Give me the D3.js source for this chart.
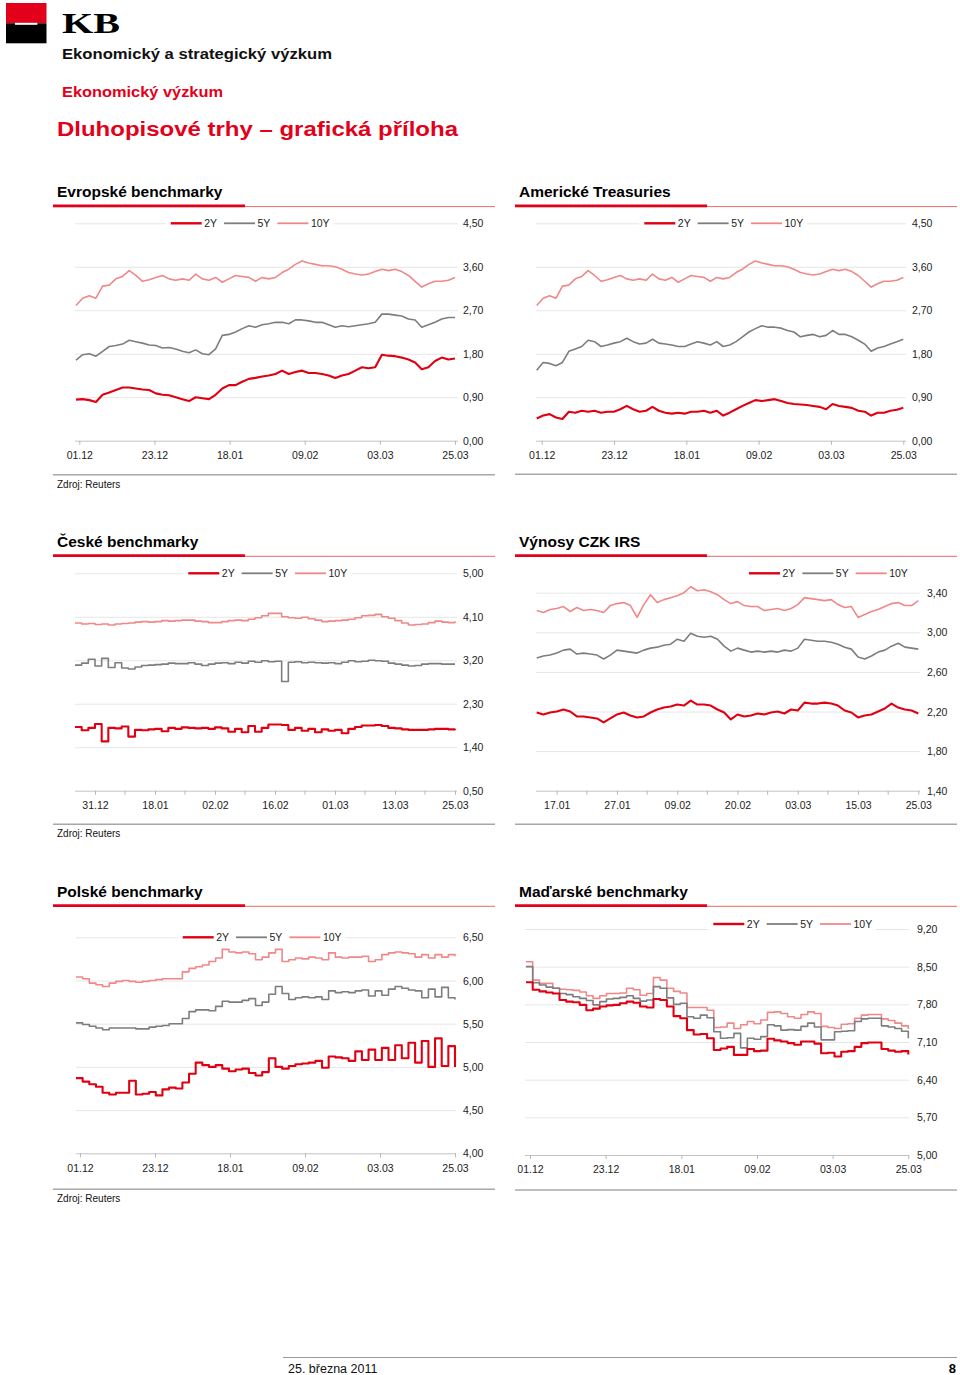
<!DOCTYPE html>
<html><head><meta charset="utf-8">
<script src="https://cdn.jsdelivr.net/npm/d3@7"></script>
<style>
body{margin:0;background:#fff}
svg{display:block}
text{font-family:"Liberation Sans",Arial,Helvetica,sans-serif}
</style>
</head><body>
<svg id="page" width="960" height="1375"></svg>
<script>
// ---------------- DATA ----------------
const seriesNames = ["2Y", "5Y", "10Y"];

// Evropské benchmarky (01.12 – 25.03)
const euTicks = ["01.12", "23.12", "18.01", "09.02", "03.03", "25.03"];
const euYTicks = [0, 0.9, 1.8, 2.7, 3.6, 4.5];
const eu2Y = [0.85,0.86,0.84,0.80,0.95,1.00,1.05,1.10,1.10,1.08,1.06,1.05,0.98,0.95,0.94,0.90,0.86,0.82,0.90,0.88,0.86,0.95,1.08,1.15,1.15,1.22,1.28,1.30,1.33,1.35,1.38,1.45,1.38,1.42,1.45,1.40,1.40,1.38,1.35,1.30,1.35,1.38,1.45,1.52,1.50,1.52,1.78,1.76,1.75,1.72,1.68,1.62,1.48,1.52,1.65,1.72,1.68,1.70];
const eu5Y = [1.67,1.78,1.80,1.75,1.85,1.95,1.97,2.00,2.08,2.05,2.02,1.98,1.97,1.92,1.93,1.90,1.85,1.82,1.88,1.80,1.78,1.90,2.18,2.20,2.25,2.32,2.38,2.35,2.40,2.42,2.45,2.45,2.42,2.50,2.50,2.48,2.45,2.45,2.40,2.35,2.38,2.36,2.38,2.40,2.42,2.45,2.62,2.62,2.60,2.58,2.52,2.50,2.35,2.40,2.45,2.52,2.55,2.55];
const eu10Y = [2.80,2.95,3.00,2.95,3.20,3.22,3.35,3.40,3.52,3.42,3.30,3.33,3.38,3.42,3.35,3.32,3.35,3.32,3.45,3.35,3.32,3.38,3.28,3.35,3.42,3.40,3.38,3.30,3.38,3.35,3.38,3.48,3.55,3.65,3.72,3.68,3.65,3.62,3.62,3.60,3.55,3.48,3.45,3.43,3.45,3.50,3.55,3.52,3.55,3.50,3.42,3.30,3.18,3.25,3.30,3.30,3.32,3.38];

// Americké Treasuries (01.12 – 25.03)
const usTicks = ["01.12", "23.12", "18.01", "09.02", "03.03", "25.03"];
const usYTicks = [0, 0.9, 1.8, 2.7, 3.6, 4.5];
const us2Y = [0.46,0.52,0.55,0.48,0.45,0.60,0.58,0.62,0.60,0.62,0.58,0.60,0.60,0.65,0.72,0.65,0.60,0.62,0.70,0.62,0.58,0.56,0.58,0.56,0.60,0.60,0.62,0.58,0.62,0.52,0.58,0.65,0.72,0.78,0.84,0.82,0.84,0.86,0.82,0.78,0.76,0.75,0.74,0.72,0.70,0.65,0.76,0.72,0.70,0.68,0.62,0.60,0.52,0.58,0.58,0.62,0.64,0.68];
const us5Y = [1.46,1.62,1.60,1.55,1.62,1.85,1.90,1.95,2.08,2.05,1.95,1.98,2.02,2.05,2.12,2.05,2.00,2.02,2.10,2.02,2.00,1.98,1.95,1.95,2.00,2.05,2.02,1.98,2.05,1.95,1.98,2.05,2.15,2.25,2.32,2.38,2.35,2.35,2.33,2.28,2.25,2.15,2.18,2.20,2.15,2.18,2.28,2.20,2.20,2.15,2.08,2.00,1.85,1.92,1.95,2.00,2.05,2.10];
const us10Y = [2.80,2.95,3.00,2.95,3.20,3.22,3.35,3.40,3.52,3.42,3.30,3.33,3.38,3.42,3.35,3.32,3.35,3.32,3.45,3.35,3.32,3.38,3.28,3.35,3.42,3.40,3.38,3.30,3.38,3.35,3.38,3.48,3.55,3.65,3.72,3.68,3.65,3.62,3.62,3.60,3.55,3.48,3.45,3.43,3.45,3.50,3.55,3.52,3.55,3.50,3.42,3.30,3.18,3.25,3.30,3.30,3.32,3.38];

// České benchmarky
const czTicks = ["31.12", "18.01", "02.02", "16.02", "01.03", "13.03", "25.03"];
const czYTicks = [0.5, 1.4, 2.3, 3.2, 4.1, 5.0];
const cz2Y = [1.82,1.75,1.80,1.88,1.52,1.80,1.79,1.83,1.62,1.76,1.75,1.77,1.78,1.73,1.80,1.78,1.81,1.80,1.79,1.80,1.78,1.81,1.79,1.72,1.78,1.71,1.84,1.72,1.80,1.87,1.87,1.86,1.76,1.80,1.74,1.78,1.71,1.77,1.74,1.76,1.69,1.78,1.82,1.85,1.85,1.86,1.84,1.80,1.79,1.77,1.76,1.76,1.76,1.77,1.78,1.78,1.77,1.78];
const cz5Y = [3.10,3.14,3.22,3.08,3.24,3.05,3.15,3.04,3.02,3.06,3.09,3.10,3.11,3.12,3.14,3.13,3.13,3.15,3.12,3.09,3.12,3.14,3.15,3.13,3.16,3.14,3.18,3.16,3.19,3.17,3.18,2.76,3.16,3.17,3.15,3.16,3.15,3.14,3.15,3.13,3.16,3.19,3.17,3.18,3.20,3.19,3.18,3.14,3.12,3.10,3.08,3.09,3.12,3.13,3.13,3.12,3.12,3.12];
const cz10Y = [3.97,3.95,3.96,3.94,3.95,3.93,3.95,3.96,3.97,3.99,4.00,3.99,4.00,4.02,4.01,4.02,4.03,4.03,4.01,4.00,3.98,3.98,4.00,4.02,4.03,4.02,4.05,4.08,4.12,4.17,4.17,4.10,4.08,4.07,4.09,4.06,4.03,4.00,4.01,4.02,4.03,4.05,4.08,4.12,4.13,4.15,4.10,4.07,4.02,3.97,3.93,3.94,3.95,3.98,4.01,3.99,3.98,4.01];

// Výnosy CZK IRS
const irsTicks = ["17.01", "27.01", "09.02", "20.02", "03.03", "15.03", "25.03"];
const irsYTicks = [1.4, 1.8, 2.2, 2.6, 3.0, 3.4];
const irs2Y = [2.19,2.17,2.19,2.20,2.22,2.20,2.15,2.15,2.14,2.13,2.09,2.13,2.17,2.19,2.16,2.14,2.15,2.19,2.22,2.24,2.25,2.27,2.26,2.31,2.27,2.27,2.26,2.22,2.19,2.12,2.17,2.15,2.16,2.18,2.17,2.19,2.20,2.18,2.22,2.21,2.29,2.28,2.28,2.29,2.28,2.26,2.21,2.19,2.14,2.16,2.17,2.20,2.23,2.28,2.24,2.22,2.21,2.18];
const irs5Y = [2.74,2.76,2.77,2.79,2.82,2.83,2.78,2.79,2.78,2.77,2.73,2.77,2.82,2.81,2.80,2.79,2.82,2.84,2.85,2.87,2.88,2.93,2.91,2.99,2.96,2.95,2.96,2.93,2.86,2.81,2.84,2.82,2.80,2.81,2.80,2.81,2.80,2.82,2.81,2.84,2.93,2.92,2.91,2.91,2.90,2.88,2.85,2.83,2.75,2.73,2.76,2.80,2.82,2.86,2.89,2.85,2.84,2.83];
const irs10Y = [3.22,3.20,3.23,3.24,3.26,3.21,3.25,3.22,3.23,3.22,3.20,3.27,3.29,3.30,3.27,3.15,3.28,3.38,3.30,3.33,3.35,3.37,3.40,3.46,3.42,3.43,3.41,3.38,3.33,3.29,3.31,3.27,3.26,3.26,3.22,3.23,3.24,3.22,3.24,3.28,3.35,3.34,3.33,3.32,3.33,3.28,3.25,3.26,3.15,3.18,3.21,3.23,3.26,3.29,3.30,3.27,3.27,3.32];

// Polské benchmarky
const plTicks = ["01.12", "23.12", "18.01", "09.02", "03.03", "25.03"];
const plYTicks = [4.0, 4.5, 5.0, 5.5, 6.0, 6.5];
const pl2Y = [4.87,4.83,4.80,4.77,4.70,4.68,4.70,4.70,4.84,4.68,4.69,4.71,4.67,4.74,4.76,4.75,4.82,4.92,5.05,5.02,5.00,5.02,4.98,4.95,4.97,4.98,4.93,4.90,4.94,5.10,5.00,4.98,5.01,5.03,5.04,5.05,5.07,4.99,5.12,5.11,5.10,5.07,5.18,5.08,5.20,5.08,5.22,5.08,5.25,5.10,5.28,5.05,5.30,5.00,5.33,5.01,5.24,5.00];
const pl5Y = [5.51,5.49,5.47,5.45,5.43,5.45,5.45,5.45,5.45,5.44,5.44,5.46,5.47,5.48,5.50,5.50,5.56,5.64,5.66,5.66,5.65,5.70,5.76,5.75,5.75,5.77,5.79,5.71,5.75,5.84,5.93,5.85,5.78,5.80,5.81,5.80,5.81,5.78,5.88,5.86,5.87,5.86,5.88,5.89,5.82,5.88,5.83,5.90,5.93,5.91,5.89,5.88,5.80,5.90,5.81,5.92,5.80,5.78];
const pl10Y = [6.04,6.02,5.97,5.95,5.93,5.97,5.99,6.00,5.99,5.98,5.99,6.00,6.01,6.02,6.02,6.02,6.10,6.14,6.16,6.18,6.22,6.26,6.36,6.33,6.32,6.33,6.31,6.24,6.27,6.32,6.36,6.22,6.24,6.26,6.25,6.27,6.26,6.24,6.32,6.27,6.26,6.27,6.27,6.28,6.22,6.24,6.30,6.32,6.33,6.32,6.31,6.27,6.30,6.26,6.30,6.27,6.30,6.28];

// Maďarské benchmarky
const huTicks = ["01.12", "23.12", "18.01", "09.02", "03.03", "25.03"];
const huYTicks = [5.0, 5.7, 6.4, 7.1, 7.8, 8.5, 9.2];
const hu2Y = [8.21,8.07,8.04,8.02,8.00,7.88,7.85,7.84,7.79,7.69,7.72,7.76,7.78,7.79,7.82,7.85,7.83,7.76,7.74,7.90,7.88,7.76,7.58,7.54,7.32,7.24,7.25,7.17,6.95,6.98,7.01,6.86,6.86,6.97,6.93,6.94,7.16,7.13,7.11,7.08,7.05,7.11,7.11,7.07,6.89,6.90,6.83,6.92,6.93,7.01,7.08,7.09,7.09,6.97,6.94,6.92,6.93,6.87];
const hu5Y = [8.50,8.20,8.16,8.12,8.10,8.00,7.98,7.94,7.91,7.87,7.79,7.85,7.90,7.91,7.93,7.96,7.91,7.86,7.88,8.13,8.10,7.92,7.80,7.82,7.57,7.54,7.60,7.55,7.29,7.17,7.18,7.26,6.99,7.17,7.15,7.20,7.42,7.40,7.32,7.33,7.32,7.39,7.45,7.38,7.14,7.14,7.29,7.30,7.31,7.48,7.53,7.54,7.54,7.40,7.38,7.35,7.30,7.17];
const hu10Y = [8.59,8.25,8.19,8.19,8.10,8.08,8.07,8.06,8.03,7.96,7.91,7.96,8.00,8.00,8.01,8.10,8.07,7.97,8.00,8.30,8.25,8.10,8.04,8.01,7.74,7.74,7.74,7.69,7.37,7.38,7.45,7.35,7.42,7.48,7.44,7.51,7.65,7.66,7.63,7.57,7.54,7.61,7.66,7.63,7.39,7.37,7.35,7.43,7.44,7.54,7.60,7.61,7.61,7.53,7.50,7.45,7.40,7.34];

// ---------------- STYLE / LAYOUT ----------------
const RED = "#e2001a";
const colors = {"2Y": "#e00012", "5Y": "#7d7d7d", "10Y": "#f08888"};
const widths = {"2Y": 2.1, "5Y": 1.6, "10Y": 1.6};
const fmt = v => d3.format(".2f")(v).replace(".", ",");

const svg = d3.select("#page");

// Header
svg.append("rect").attr("x", 6).attr("y", 3).attr("width", 40.5).attr("height", 20.3).attr("fill", RED);
svg.append("rect").attr("x", 6).attr("y", 23.3).attr("width", 40.5).attr("height", 20).attr("fill", "#000");
svg.append("rect").attr("x", 15).attr("y", 22.8).attr("width", 22.3).attr("height", 2).attr("fill", "#fff");
svg.append("text").attr("x", 62).attr("y", 33.3).attr("font-size", 29).attr("font-weight", "bold")
  .style("font-family", "'Liberation Serif','DejaVu Serif',serif")
  .attr("textLength", 58).attr("lengthAdjust", "spacingAndGlyphs").text("KB");
svg.append("text").attr("x", 62).attr("y", 59.3).attr("font-size", 14.5).attr("font-weight", "bold").attr("fill", "#111")
  .attr("textLength", 270).attr("lengthAdjust", "spacingAndGlyphs").text("Ekonomický a strategický výzkum");
svg.append("text").attr("x", 62).attr("y", 97.3).attr("font-size", 14.5).attr("font-weight", "bold").attr("fill", RED)
  .attr("textLength", 161).attr("lengthAdjust", "spacingAndGlyphs").text("Ekonomický výzkum");
svg.append("text").attr("x", 57).attr("y", 136).attr("font-size", 20).attr("font-weight", "bold").attr("fill", RED)
  .attr("textLength", 401).attr("lengthAdjust", "spacingAndGlyphs").text("Dluhopisové trhy – grafická příloha");

// Footer
svg.append("line").attr("x1", 283).attr("x2", 957).attr("y1", 1357.5).attr("y2", 1357.5).attr("stroke", "#9a9a9a").attr("stroke-width", 1);
svg.append("text").attr("x", 288).attr("y", 1373).attr("font-size", 12.5).attr("fill", "#111").text("25. března 2011");
svg.append("text").attr("x", 956).attr("y", 1373).attr("text-anchor", "end").attr("font-size", 13).attr("font-weight", "bold").text("8");

const charts = [
  {title: "Evropské benchmarky", titleX: 57, px0: 53, px1: 495, titleY: 197, bottomY: 474.8, source: true,
   yDomain: [0, 4.5], yTicks: euYTicks, yTop: 223.3, yBot: 440.7, gx0: 75, gx1: 458, labelX: 463,
   dx0: 76, dx1: 455, ticks: euTicks, tx0: 79.3, tx1: 455, minor: false,
   legendX: 170.7, legendY: 223.3, data: {"2Y": eu2Y, "5Y": eu5Y, "10Y": eu10Y}, step: false},
  {title: "Americké Treasuries", titleX: 519, px0: 515, px1: 957, titleY: 197, bottomY: 474.3, source: false,
   yDomain: [0, 4.5], yTicks: usYTicks, yTop: 223.3, yBot: 440.7, gx0: 536, gx1: 906, labelX: 912,
   dx0: 536.7, dx1: 903.3, ticks: usTicks, tx0: 541.7, tx1: 903.3, minor: false,
   legendX: 644.3, legendY: 223.3, data: {"2Y": us2Y, "5Y": us5Y, "10Y": us10Y}, step: false},
  {title: "České benchmarky", titleX: 57, px0: 53, px1: 495, titleY: 546.7, bottomY: 824.3, source: true,
   yDomain: [0.5, 5.0], yTicks: czYTicks, yTop: 573.3, yBot: 790.7, gx0: 75, gx1: 457, labelX: 463,
   dx0: 75, dx1: 455, ticks: czTicks, tx0: 95, tx1: 455, minor: true,
   legendX: 188.3, legendY: 573.3, data: {"2Y": cz2Y, "5Y": cz5Y, "10Y": cz10Y}, step: true},
  {title: "Výnosy CZK IRS", titleX: 519, px0: 515, px1: 957, titleY: 546.7, bottomY: 824.3, source: false,
   yDomain: [1.4, 3.4], yTicks: irsYTicks, yTop: 592.7, yBot: 790.7, gx0: 536, gx1: 920, labelX: 927,
   dx0: 536.7, dx1: 918.3, ticks: irsTicks, tx0: 556.7, tx1: 918.3, minor: true,
   legendX: 749, legendY: 573.3, data: {"2Y": irs2Y, "5Y": irs5Y, "10Y": irs10Y}, step: false},
  {title: "Polské benchmarky", titleX: 57, px0: 53, px1: 495, titleY: 896.7, bottomY: 1189.3, source: true,
   yDomain: [4.0, 6.5], yTicks: plYTicks, yTop: 937.3, yBot: 1153.3, gx0: 76, gx1: 456, labelX: 463,
   dx0: 76, dx1: 455, ticks: plTicks, tx0: 80, tx1: 455, minor: false,
   legendX: 182.7, legendY: 937.3, data: {"2Y": pl2Y, "5Y": pl5Y, "10Y": pl10Y}, step: true},
  {title: "Maďarské benchmarky", titleX: 519, px0: 515, px1: 957, titleY: 896.7, bottomY: 1190, source: false,
   yDomain: [5.0, 9.2], yTicks: huYTicks, yTop: 929, yBot: 1155, gx0: 525, gx1: 909, labelX: 917,
   dx0: 526, dx1: 908.3, ticks: huTicks, tx0: 530, tx1: 908.3, minor: false, clipLeft: 517.5,
   legendX: 713.3, legendY: 924, data: {"2Y": hu2Y, "5Y": hu5Y, "10Y": hu10Y}, step: true}
];

const defs = svg.append("defs");

function drawChart(c, idx) {
  const g = svg.append("g");
  // title + rules
  g.append("text").attr("x", c.titleX).attr("y", c.titleY).attr("font-size", 15.5).attr("font-weight", "bold")
    .attr("fill", "#000").text(c.title);
  g.append("line").attr("x1", c.px0).attr("x2", c.px1).attr("y1", c.titleY + 9.6).attr("y2", c.titleY + 9.6)
    .attr("stroke", "#e46a6a").attr("stroke-width", 1);
  g.append("line").attr("x1", c.px0).attr("x2", c.px0 + 192).attr("y1", c.titleY + 8.9).attr("y2", c.titleY + 8.9)
    .attr("stroke", RED).attr("stroke-width", 2.8);
  g.append("line").attr("x1", c.px0).attr("x2", c.px1).attr("y1", c.bottomY).attr("y2", c.bottomY)
    .attr("stroke", "#a8a8a8").attr("stroke-width", 1.5);
  if (c.source) {
    g.append("text").attr("x", 57).attr("y", c.bottomY + 13).attr("font-size", 10).attr("fill", "#111").text("Zdroj: Reuters");
  }

  const y = d3.scaleLinear().domain(c.yDomain).range([c.yBot, c.yTop]);
  const yAxis = d3.axisRight(y).tickValues(c.yTicks).tickSize(-(c.gx1 - c.gx0))
    .tickPadding(c.labelX - c.gx1).tickFormat(fmt);
  const ya = g.append("g").attr("transform", `translate(${c.gx1},0)`).call(yAxis)
    .attr("font-family", null).attr("font-size", null);
  ya.select(".domain").remove();
  ya.selectAll(".tick line").attr("stroke", d => d === c.yDomain[0] ? "#c4c4c4" : "#e6e6e6").attr("stroke-width", 1);
  ya.selectAll(".tick text").attr("font-size", 10.5).attr("fill", "#222").attr("dy", "0.34em");

  // x axis
  const xt = d3.scalePoint().domain(c.ticks).range([c.tx0, c.tx1]);
  const xa = g.append("g").attr("transform", `translate(0,${c.yBot})`)
    .call(d3.axisBottom(xt).tickSize(4).tickPadding(7))
    .attr("font-family", null).attr("font-size", null);
  xa.select(".domain").remove();
  xa.selectAll(".tick line").attr("stroke", "#b8b8b8");
  xa.selectAll(".tick text").attr("font-size", 10.5).attr("fill", "#222");
  if (c.clipLeft) {
    const id = "clip" + idx;
    defs.append("clipPath").attr("id", id).append("rect")
      .attr("x", c.clipLeft).attr("y", -2).attr("width", 960 - c.clipLeft).attr("height", 40);
    xa.attr("clip-path", `url(#${id})`);
  }
  if (c.minor) {
    const mids = d3.pairs(c.ticks).map(([a, b]) => (xt(a) + xt(b)) / 2);
    g.append("g").selectAll("line").data(mids).join("line")
      .attr("x1", d => d).attr("x2", d => d).attr("y1", c.yBot).attr("y2", c.yBot + 4).attr("stroke", "#b8b8b8");
  }

  // series (10Y first so 2Y on top)
  ["10Y", "5Y", "2Y"].forEach(name => {
    const vals = c.data[name];
    const x = d3.scaleLinear().domain([0, vals.length - 1]).range([c.dx0, c.dx1]);
    const line = d3.line().x((d, i) => x(i)).y(d => y(d))
      .curve(c.step ? d3.curveStepAfter : d3.curveLinear);
    g.append("path").datum(vals).attr("d", line).attr("fill", "none")
      .attr("stroke", colors[name]).attr("stroke-width", widths[name]).attr("stroke-linejoin", "round");
  });

  // legend
  const lg = g.append("g");
  let cx = c.legendX;
  seriesNames.forEach(name => {
    lg.append("line").attr("x1", cx).attr("x2", cx + 31).attr("y1", c.legendY).attr("y2", c.legendY)
      .attr("stroke", colors[name]).attr("stroke-width", name === "2Y" ? 2.4 : 1.8);
    const t = lg.append("text").attr("x", cx + 33.5).attr("y", c.legendY).attr("dy", "0.36em")
      .attr("font-size", 10.5).attr("fill", "#222").text(name);
    cx = cx + 33.5 + t.node().getComputedTextLength() + 7;
  });
  lg.insert("rect", ":first-child").attr("x", c.legendX - 5).attr("y", c.legendY - 7)
    .attr("width", cx - c.legendX + 2).attr("height", 14).attr("fill", "#fff");
}

charts.forEach(drawChart);
</script>
</body></html>
